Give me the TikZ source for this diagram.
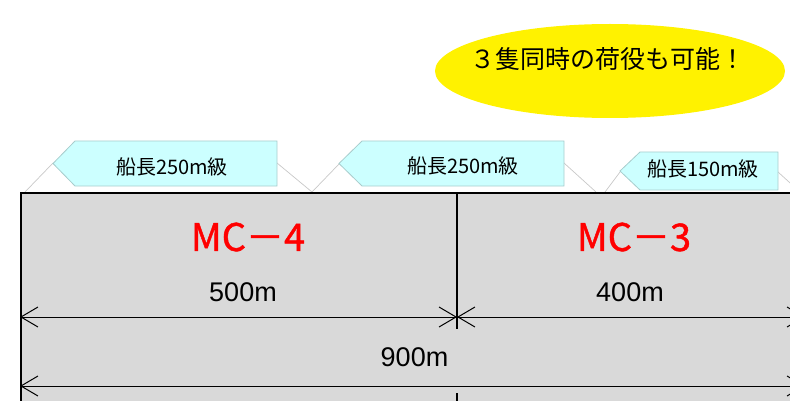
\documentclass[tikz,border=0pt]{standalone}
\usepackage{fontspec}
\setmainfont{Liberation Sans}
\newfontfamily\jp{Noto Sans CJK JP}
\newfontfamily\jpmed[FakeBold=1.2]{Noto Sans CJK JP}
\usetikzlibrary{arrows.meta,shapes.geometric}
\definecolor{shipfill}{HTML}{CCFFFF}
\definecolor{shipborder}{HTML}{A8CCCC}
\definecolor{berthgray}{HTML}{D9D9D9}
\definecolor{hullgray}{HTML}{C8C8C8}
\definecolor{mcred}{HTML}{FF0000}
\begin{document}
\begin{tikzpicture}[x=1pt,y=-1pt,
  hull/.style={draw=hullgray, line width=0.7pt},
  tag/.style={draw=shipborder, fill=shipfill, line width=0.8pt},
  tagtext/.style={font=\jp\fontsize{20}{20}\selectfont, inner sep=0pt},
  mctext/.style={font=\jpmed\fontsize{38}{38}\selectfont, text=mcred, inner sep=0pt},
  dimtext/.style={font=\fontsize{27}{27}\selectfont, inner sep=0pt},
  dim/.style={line width=1pt, {Straight Barb[length=17pt,width=20pt]}-{Straight Barb[length=17pt,width=20pt]}},
  divider/.style={line width=1.5pt}]
\useasboundingbox (0,0) rectangle (790,401);
\clip (0,0) rectangle (790,401);
% bubble
\node[ellipse, fill=yellow, minimum width=350pt, minimum height=94pt, inner sep=0pt] (bubble) at (610,71) {};
\node[font=\jp\fontsize{25}{25}\selectfont, inner sep=0pt] (bubbletext) at (608,59) {３隻同時の荷役も可能！};
% hull outlines
\coordinate (h1a) at (25,192); \coordinate (h1b) at (53,163);
\coordinate (h1c) at (277,163); \coordinate (h1d) at (312,192);
\coordinate (h2a) at (312,192); \coordinate (h2b) at (340,163);
\coordinate (h2c) at (564,163); \coordinate (h2d) at (596,192);
\coordinate (h3a) at (605,192); \coordinate (h3b) at (620,172);
\coordinate (h3c) at (778,172); \coordinate (h3d) at (800,192);
\draw[hull] (h1a) -- (h1b);
\draw[hull] (h1c) -- (h1d);
\draw[hull] (h2a) -- (h2b);
\draw[hull] (h2c) -- (h2d);
\draw[hull] (h3a) -- (h3b);
\draw[hull] (h3c) -- (h3d);
% berth
\node[draw, fill=berthgray, line width=1.5pt, anchor=north west, minimum width=820pt, minimum height=240pt, inner sep=0pt] (berth) at (20,192) {};
% ship tags
\draw[tag] (53,163.5) -- (75,141) -- (277,141) -- (277,186) -- (75,186) -- cycle;
\draw[tag] (339,163.5) -- (362,141) -- (564,141) -- (564,186) -- (362,186) -- cycle;
\draw[tag] (620,171) -- (640,152) -- (778,152) -- (778,190) -- (640,190) -- cycle;
\node[tagtext] (tag1) at (172,167) {船長250m級};
\node[tagtext] (tag2) at (463,166) {船長250m級};
\node[tagtext] (tag3) at (703,169) {船長150m級};
% divider
\coordinate (d1) at (457,192); \coordinate (d2) at (457,329);
\coordinate (d3) at (457,393); \coordinate (d4) at (457,410);
\draw[divider] (d1) -- (d2);
\draw[divider] (d3) -- (d4);
% dimensions
\coordinate (L1) at (20,317); \coordinate (M1) at (457,317); \coordinate (R1) at (805,317);
\coordinate (L2) at (20,386); \coordinate (R2) at (805,386);
\draw[dim] (L1) -- (M1);
\draw[dim] (M1) -- (R1);
\draw[dim] (L2) -- (R2);
% texts
\node[mctext] (mc4) at (248,237) {MC－4};
\node[mctext] (mc3) at (634,237) {MC－3};
\node[dimtext] (d500) at (243,292) {500m};
\node[dimtext] (d400) at (630,292) {400m};
\node[dimtext] (d900) at (414.5,357) {900m};
\end{tikzpicture}
\end{document}
